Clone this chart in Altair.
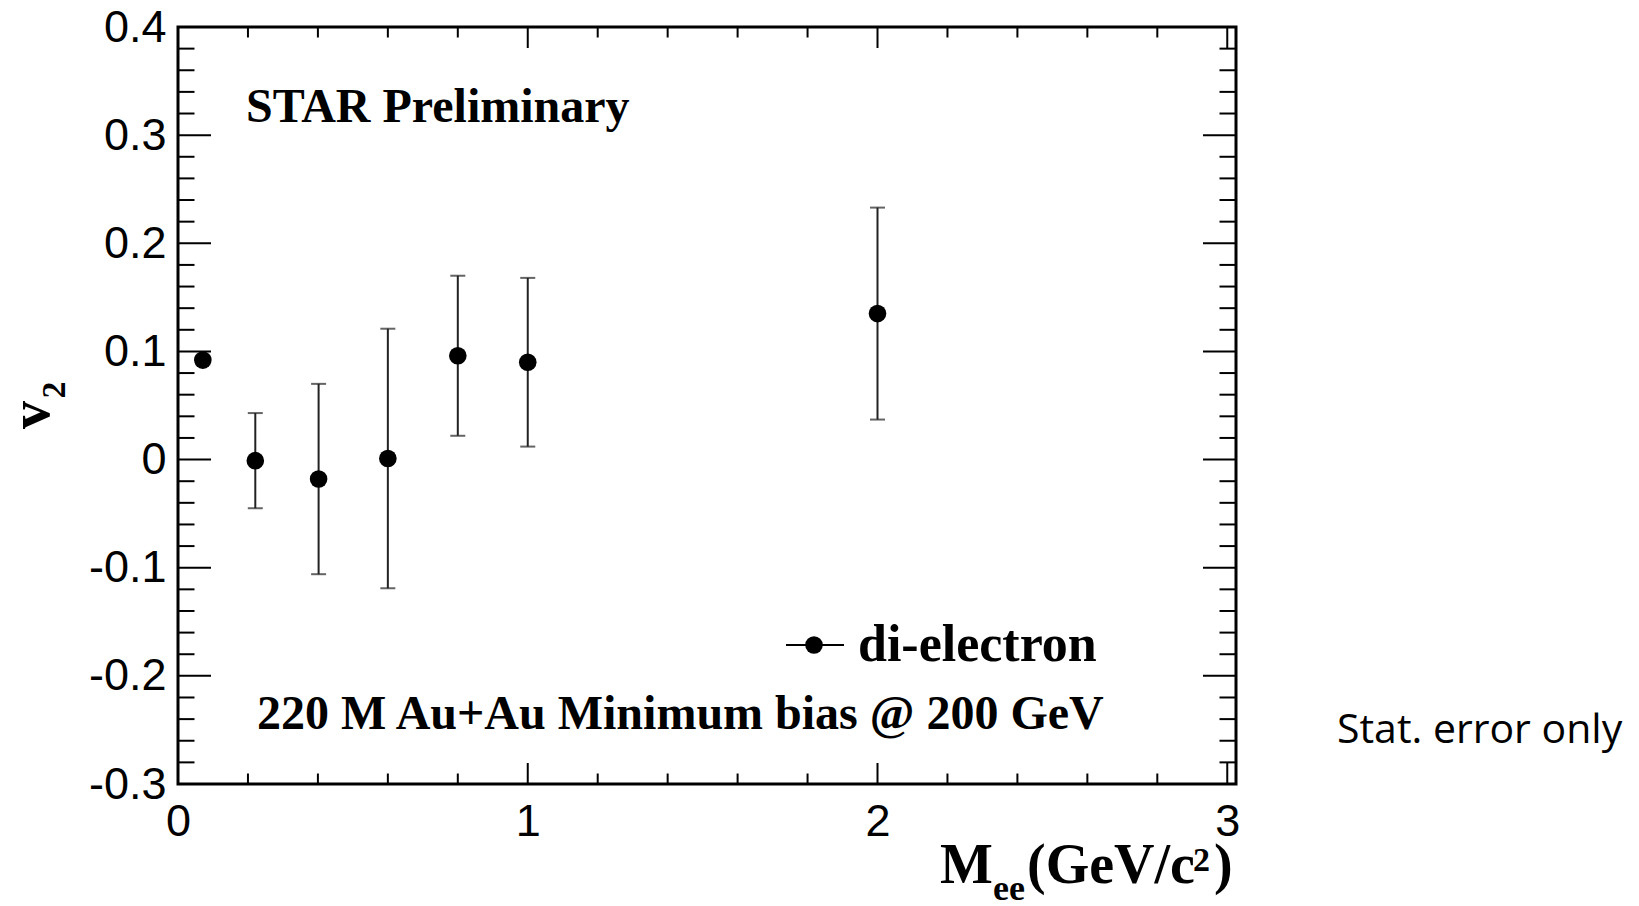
import altair as alt
import pandas as pd

# ---- data ----
mass = [0.071, 0.221, 0.402, 0.600, 0.800, 1.000, 2.000]
v2 = [0.092, -0.001, -0.018, 0.001, 0.096, 0.090, 0.135]
stat_err = [0.004, 0.044, 0.088, 0.120, 0.074, 0.078, 0.098]

x_major = [0, 1, 2, 3]
x_minor = [0.2, 0.4, 0.6, 0.8, 1.2, 1.4, 1.6, 1.8, 2.2, 2.4, 2.6, 2.8]
y_major = [-0.3, -0.2, -0.1, 0.0, 0.1, 0.2, 0.3, 0.4]
y_minor = [round(-0.3 + 0.02 * i, 2) for i in range(36) if i % 5 != 0]

W, H = 1058, 757
XDOM = [0, 3.025]
YDOM = [-0.3, 0.4]
SERIF = "Liberation Serif"
SANS = "Liberation Sans"

df = pd.DataFrame({"m": mass, "v": v2, "e": stat_err})
df["lo"] = df["v"] - df["e"]
df["hi"] = df["v"] + df["e"]

xs = alt.Scale(domain=XDOM, nice=False, zero=False)
ys = alt.Scale(domain=YDOM, nice=False, zero=False)

XAX = alt.Axis(values=x_major, format="d", title=None, grid=False, ticks=False, tickSize=0,
               domain=False, labelFont=SANS, labelFontSize=45, labelPadding=15,
               labelColor="black", labelFlush=False)
YAX = alt.Axis(values=y_major, title=None, grid=False, ticks=False, tickSize=0, domain=False,
               labelFont=SANS, labelFontSize=45, labelPadding=12, labelColor="black",
               labelFlush=False,
               labelExpr="datum.value < 0 ? '-' + format(-datum.value, '.1~f') : format(datum.value, '.1~f')")

def X(field):
    return alt.X(field, scale=xs, axis=XAX)

def Y(field):
    return alt.Y(field, scale=ys, axis=YAX)

base = alt.Chart(df)

points = base.mark_point(filled=True, shape="circle", size=310, color="black", opacity=1).encode(
    x=X("m:Q"), y=Y("v:Q"))

bars = base.mark_rule(color="#222222", strokeWidth=2).encode(
    x=X("m:Q"), y=Y("lo:Q"), y2="hi:Q")
caps_lo = base.mark_tick(orient="horizontal", size=15, thickness=2, color="#222222").encode(
    x=X("m:Q"), y=Y("lo:Q"))
caps_hi = base.mark_tick(orient="horizontal", size=15, thickness=2, color="#222222").encode(
    x=X("m:Q"), y=Y("hi:Q"))

def yticks(vals, length):
    d = alt.Chart(pd.DataFrame({"t": vals}))
    left = d.mark_rule(color="black", strokeWidth=2).encode(
        y=Y("t:Q"), x=alt.value(0), x2=alt.value(length))
    right = d.mark_rule(color="black", strokeWidth=2).encode(
        y=Y("t:Q"), x=alt.value(W), x2=alt.value(W - length))
    return [left, right]

def xticks(vals, length):
    d = alt.Chart(pd.DataFrame({"t": vals}))
    bottom = d.mark_rule(color="black", strokeWidth=2).encode(
        x=X("t:Q"), y=alt.value(H), y2=alt.value(H - length))
    top = d.mark_rule(color="black", strokeWidth=2).encode(
        x=X("t:Q"), y=alt.value(0), y2=alt.value(length))
    return [bottom, top]

tick_layers = yticks(y_major, 33) + yticks(y_minor, 16.5) + xticks(x_major, 21) + xticks(x_minor, 10.5)

def label(text, x, y, size, font=SERIF, weight="bold", align="left", angle=0, baseline="alphabetic"):
    kw = dict(align=align, baseline=baseline, font=font, fontSize=size, fontWeight=weight, color="black")
    if angle:
        kw["angle"] = angle
    return alt.Chart(pd.DataFrame({"t": [text]})).mark_text(**kw).encode(
        x=alt.value(x), y=alt.value(y), text="t:N")

texts = [
    label("STAR Preliminary", 68, 95, 48),
    label("220 M Au+Au Minimum bias @ 200 GeV", 79, 702, 48),
    label("di-electron", 680, 634, 52),
    label("Stat. error only", 1159, 716, 41, font="Open Sans", weight="normal"),
    # y title v_2
    label("v", -129, 388, 56, align="center", angle=270),
    label("2", -113, 363, 34, align="center", angle=270),
    # x title M_ee(GeV/c^2)
    label("M", 762, 856, 56),
    label("ee", 815, 873, 36),
    label("(GeV/c", 849, 856, 56),
    label("2", 1015, 844, 34),
    label(")", 1036, 856, 56),
]

leg_line = alt.Chart(pd.DataFrame({"t": [0]})).mark_rule(color="black", strokeWidth=2).encode(
    x=alt.value(608), x2=alt.value(666), y=alt.value(618))
leg_pt = alt.Chart(pd.DataFrame({"t": [0]})).mark_point(
    filled=True, shape="circle", size=310, color="black", opacity=1).encode(
    x=alt.value(636), y=alt.value(618))

chart = alt.layer(
    *tick_layers, bars, caps_lo, caps_hi, points, leg_line, leg_pt, *texts
).properties(
    width=W, height=H,
    autosize=alt.AutoSizeParams(type="none"),
    padding={"left": 178, "top": 27, "right": 1639 - 178 - W, "bottom": 906 - 27 - H},
    background="white",
).configure_view(stroke="black", strokeWidth=3)

chart.save("out.html", embed_options={"renderer": "svg", "actions": False})
